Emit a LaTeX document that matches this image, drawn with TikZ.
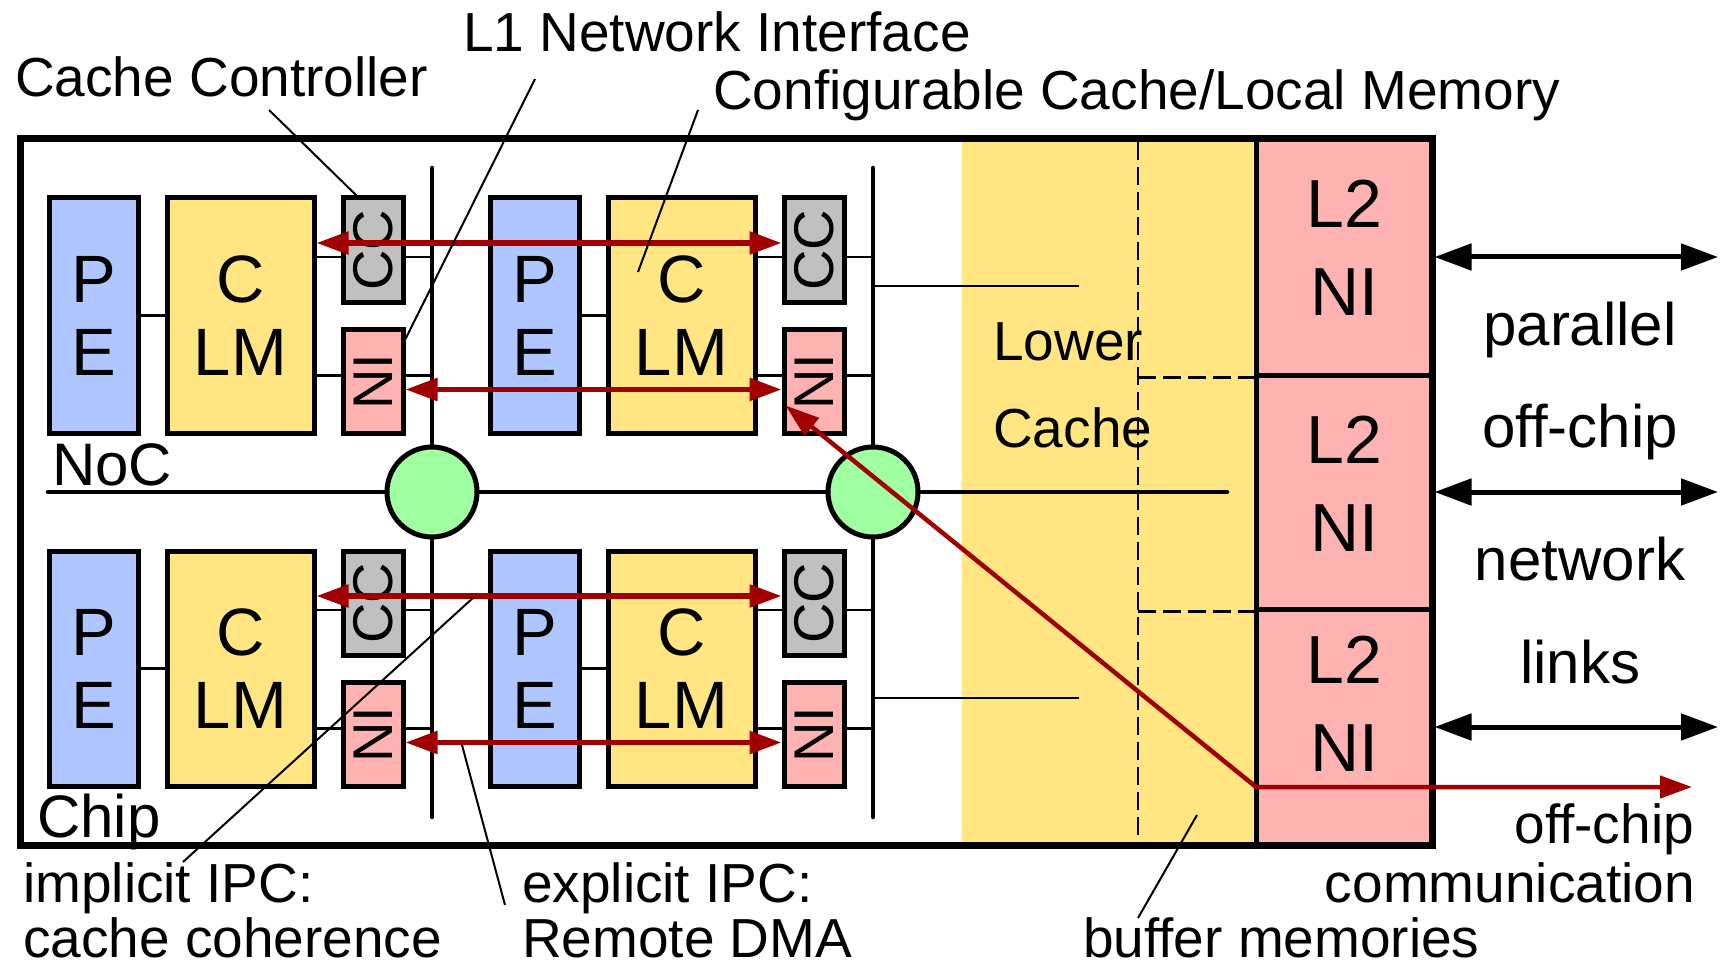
\documentclass[tikz,border=0pt]{standalone}
\usepackage{fontspec}
\setmainfont{Liberation Sans}
\usetikzlibrary{arrows.meta,calc}
\definecolor{peblue}{RGB}{176,198,255}
\definecolor{cyellow}{RGB}{255,230,130}
\definecolor{nipink}{RGB}{255,178,178}
\definecolor{ccgray}{RGB}{192,192,192}
\definecolor{rgreen}{RGB}{160,255,160}
\definecolor{darkred}{RGB}{160,0,0}
\tikzset{
 blk/.style={draw=black, line width=5pt, inner sep=0pt, align=center, font=\fontsize{67}{73}\selectfont},
 pebox/.style={blk, fill=peblue, minimum width=89pt, minimum height=235pt},
 clmbox/.style={blk, fill=cyellow, minimum width=147pt, minimum height=235pt},
 ccbox/.style={blk, fill=ccgray, minimum width=60pt, minimum height=104pt},
 nibox/.style={blk, fill=nipink, minimum width=60pt, minimum height=104pt},
 rottxt/.style={rotate=90, inner sep=0pt, font=\fontsize{56}{60}\selectfont},
 wire/.style={line width=2.5pt},
 busln/.style={line width=4.5pt, line cap=round},
 router/.style={circle, draw, line width=5pt, fill=rgreen, minimum size=90pt, inner sep=0pt},
 redarr/.style={darkred, line width=5.5pt, {Triangle[length=32pt,width=22pt]}-{Triangle[length=32pt,width=22pt]}},
 blkarr/.style={line width=5pt, {Triangle[length=37pt,width=26pt]}-{Triangle[length=37pt,width=26pt]}},
 lbl/.style={inner sep=0pt, font=\fontsize{55}{66}\selectfont},
 biglbl/.style={inner sep=0pt, font=\fontsize{60}{66}\selectfont},
 l2txt/.style={inner sep=0pt, font=\fontsize{68}{74}\selectfont},
 pointer/.style={line width=2pt},
 dashln/.style={line width=2.5pt, dash pattern=on 18pt off 7pt},
 l2box/.style={draw, line width=5pt, fill=nipink, minimum width=176pt, inner sep=0pt},
}
\begin{document}
\begin{tikzpicture}[x=1pt,y=-1pt]
\useasboundingbox (0,0) rectangle (1720,968);
% lower cache region
\node[fill=cyellow, minimum width=294pt, minimum height=706pt, inner sep=0pt] (lc) at (1109,492) {};
% L2 NIs
\node[l2box, minimum height=236pt] (l2a) at (1344,257) {};
\node[l2box, minimum height=234pt] (l2b) at (1344,492) {};
\node[l2box, minimum height=236pt] (l2c) at (1344,727) {};
% buffer dashed lines
\coordinate (dv1) at (1138,142);
\coordinate (dv2) at (1138,842);
\draw[dashln] (dv1) -- (dv2);
\draw[dashln] (dv1 |- l2a.south) -- (l2a.south west);
\draw[dashln] (dv1 |- l2b.south) -- (l2b.south west);
% bus coordinates
\coordinate (bus1t) at (432,168);
\coordinate (bus1b) at (432,817);
\coordinate (bus2t) at (873,168);
\coordinate (bus2b) at (873,817);
\coordinate (nocL) at (48,492);
\coordinate (nocR) at (1227,492);
\coordinate (lcA) at (1079,286);
\coordinate (lcB) at (1079,698);
% clusters
\foreach \c/\dx in {1/0,2/441}{
 \foreach \r/\dy in {a/0,b/353}{
  \node[pebox] (pe\c\r) at (93.5+\dx,315.5+\dy) {P\\E};
  \node[clmbox] (clm\c\r) at (240.5+\dx,315.5+\dy) {C\\LM};
  \node[ccbox] (cc\c\r) at (373+\dx,250+\dy) {};
  \node[rottxt] (cct\c\r) at (cc\c\r.center) {CC};
  \node[nibox] (ni\c\r) at (373+\dx,381.5+\dy) {};
  \node[rottxt] (nit\c\r) at (ni\c\r.center) {NI};
  \draw[wire] (pe\c\r.east) -- (clm\c\r.west);
  \draw[wire] ($(clm\c\r.east |- cc\c\r.center)+(0,7)$) -- ($(cc\c\r.west)+(0,7)$);
  \draw[wire] ($(cc\c\r.east)+(0,7)$) -- ($(bus\c t |- cc\c\r.center)+(0,7)$);
  \draw[wire] ($(clm\c\r.east |- ni\c\r.center)+(0,-6)$) -- ($(ni\c\r.west)+(0,-6)$);
  \draw[wire] ($(ni\c\r.east)+(0,-6)$) -- ($(bus\c t |- ni\c\r.center)+(0,-6)$);
 }
}
% buses
\draw[busln] (bus1t) -- (bus1b);
\draw[busln] (bus2t) -- (bus2b);
\draw[busln] (nocL) -- (nocR);
\draw[wire] (bus2t |- lcA) -- (lcA);
\draw[wire] (bus2t |- lcB) -- (lcB);
\node[router] (r1) at (432,492) {};
\node[router] (r2) at (873,492) {};
% chip frame
\node[draw, line width=7pt, minimum width=1412pt, minimum height=706pt, inner sep=0pt] (chip) at (726,492) {};
% red arrows
\draw[redarr] ($(clm1a.east |- cc1a.center)+(0,-7)$) -- ($(cc2a.west)+(0,-7)$);
\draw[redarr] ($(clm1b.east |- cc1b.center)+(0,-7)$) -- ($(cc2b.west)+(0,-7)$);
\draw[redarr] ($(ni1a.east)+(0,8)$) -- ($(ni2a.west)+(0,8)$);
\draw[redarr] ($(ni1b.east)+(0,8)$) -- ($(ni2b.west)+(0,8)$);
\coordinate (l2out) at (1256,787);
\coordinate (offchip) at (1692,787);
\draw[darkred, line width=4.5pt, line join=round, {Triangle[length=34pt,width=22pt]}-{Triangle[length=32pt,width=22pt]}] ($(ni2a.west)+(4,24)$) -- (l2out) -- (offchip);
% external links
\coordinate (ext1) at (1718,257);
\coordinate (ext2) at (1718,492);
\coordinate (ext3) at (1718,727);
\draw[blkarr] (l2a.east) -- (ext1);
\draw[blkarr] (l2b.east) -- (ext2);
\draw[blkarr] (l2c.east) -- (ext3);
% L2 NI texts
\node[l2txt, anchor=base] (l2at1) at (1344,228) {L2};
\node[l2txt, anchor=base] (l2at2) at (1344,315) {NI};
\node[l2txt, anchor=base] (l2bt1) at (1344,463) {L2};
\node[l2txt, anchor=base] (l2bt2) at (1344,551) {NI};
\node[l2txt, anchor=base] (l2ct1) at (1344,683) {L2};
\node[l2txt, anchor=base] (l2ct2) at (1344,771) {NI};
% lower cache text
\node[lbl, anchor=base west] (lower) at (993,360) {Lower};
\node[lbl, anchor=base west] (cachet) at (993,447) {Cache};
% labels
\node[lbl, anchor=base west] (ccctl) at (15,97) {Cache Controller};
\node[lbl, anchor=base west] (l1ni) at (463,52) {L1 Network Interface};
\node[lbl, anchor=base west] (cfg) at (713,110) {Configurable Cache/Local Memory};
\node[biglbl, anchor=base west] (noc) at (52,485) {NoC};
\node[biglbl, anchor=base west] (chipt) at (37,837) {Chip};
\node[lbl, anchor=base west] (impl1) at (23,902) {implicit IPC:};
\node[lbl, anchor=base west] (impl2) at (23,957) {cache coherence};
\node[lbl, anchor=base west] (expl1) at (522,902) {explicit IPC:};
\node[lbl, anchor=base west] (expl2) at (522,957) {Remote DMA};
\node[lbl, anchor=base west] (buf) at (1083,957) {buffer memories};
\node[lbl, anchor=base east] (offc1) at (1694,843) {off-chip};
\node[lbl, anchor=base east] (offc2) at (1695,902) {communication};
\node[biglbl, anchor=base] (par) at (1580,345) {parallel};
\node[biglbl, anchor=base] (offc) at (1580,447) {off-chip};
\node[biglbl, anchor=base] (netw) at (1580,580) {network};
\node[biglbl, anchor=base] (lnks) at (1580,683) {links};
% pointers
\coordinate (pccS) at (269,110);
\draw[pointer] (pccS) -- ($(cc1a.north west)+(16,0)$);
\coordinate (pniS) at (535,79);
\draw[pointer] (pniS) -- ($(ni1a.north east)+(0,12)$);
\coordinate (pcfS) at (698,110);
\coordinate (pcfE) at (638,272);
\draw[pointer] (pcfS) -- (pcfE);
\coordinate (pimS) at (474,597);
\coordinate (pimE) at (183,862);
\draw[pointer] (pimS) -- (pimE);
\coordinate (pexS) at (462,745);
\coordinate (pexE) at (505,905);
\draw[pointer] (pexS) -- (pexE);
\coordinate (pbS) at (1197,815);
\coordinate (pbE) at (1138,918);
\draw[pointer] (pbS) -- (pbE);
\end{tikzpicture}
\end{document}
